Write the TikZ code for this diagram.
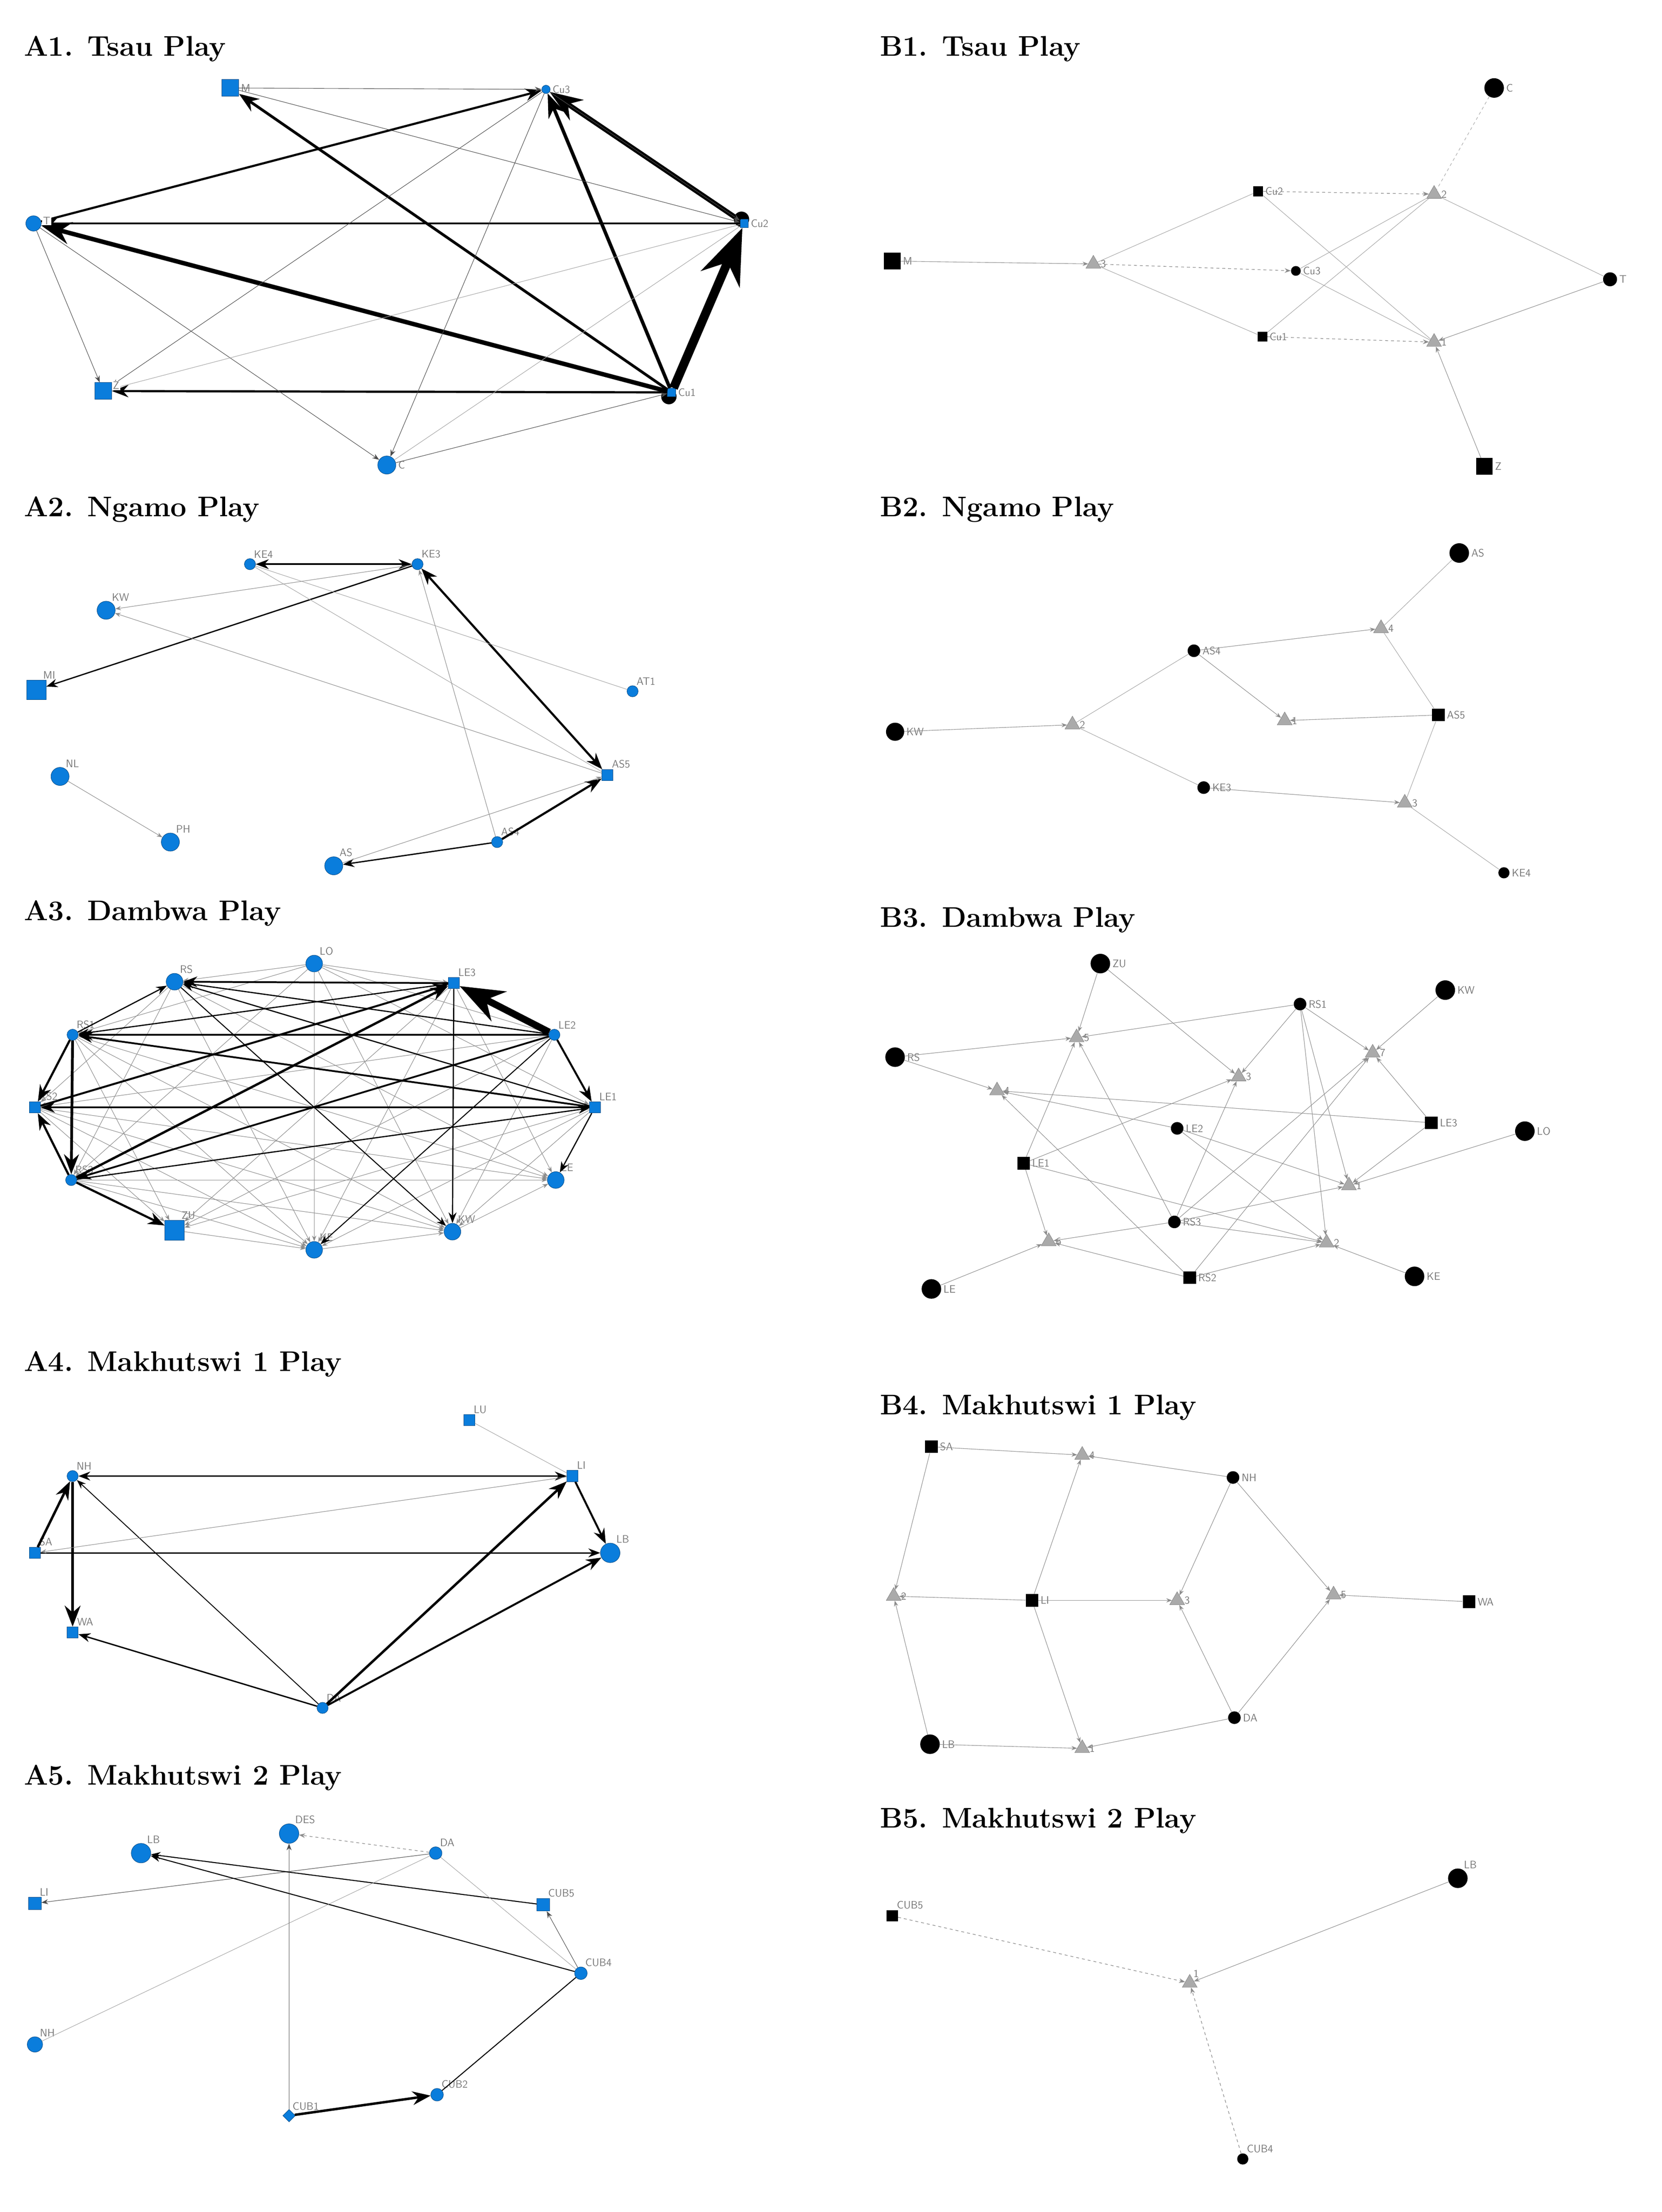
\documentclass[tikz,border=0pt]{standalone}
\usetikzlibrary{arrows.meta,shapes.geometric}
\definecolor{nb}{RGB}{10,125,220}
\definecolor{lg}{RGB}{120,120,120}
\definecolor{tg}{RGB}{170,170,170}
\begin{document}
\begin{tikzpicture}[x=0.05cm,y=-0.05cm,
 title/.style={font=\fontsize{29}{29}\selectfont\bfseries,anchor=base west,inner sep=0},
 lab/.style={font=\fontsize{11}{11}\selectfont\sffamily,text=lg,inner sep=1pt},
 bc/.style={circle,fill=nb,draw=nb!60!black,minimum size={#1*0.05cm},inner sep=0},
 bs/.style={rectangle,fill=nb,draw=nb!60!black,minimum size={#1*0.05cm},inner sep=0},
 kc/.style={circle,fill=black,minimum size={#1*0.05cm},inner sep=0},
 ks/.style={rectangle,fill=black,minimum size={#1*0.05cm},inner sep=0},
 tr/.style={regular polygon,regular polygon sides=3,fill=tg,draw=lg,line width=0.3pt,minimum size=0.62cm,inner sep=0},
 e/.style={line width=#1,-{Stealth[scale=1.3]}},
 ee/.style={line width=#1,{Stealth[scale=1.3]}-{Stealth[scale=1.3]}},
 t/.style={line width=0.5pt,draw=black!70,-{Stealth[scale=1.3]}},
 g/.style={line width=0.5pt,draw=black!35},
 ga/.style={line width=0.5pt,draw=black!45,-{Stealth[scale=1.1]}},
 gd/.style={line width=0.6pt,draw=black!45,dashed,-{Stealth[scale=1.1]}},
 R/.style={label={[lab,label distance=1pt]0:#1}},
 AR/.style={label={[lab]60:#1}}]
\useasboundingbox (0,0) rectangle (1190,1584);
\fill[white] (0,0) rectangle (1190,1584);
% ---------- A1
\node[title] at (17,40) {A1. Tsau Play};
\node[bs=12,R=M] (a1M) at (165,63) {};
\node[bc=6,R=Cu3] (a1C3) at (391,64) {};
\node[bc=11] (a1T) at (24,160) {};
\node[kc=11] at (531,157) {};
\node[bs=6,R=Cu2] (a1C2) at (533,160) {};
\node[bs=12] (a1Z) at (74,280) {};
\node[kc=11] at (479,284) {};
\node[bs=6,R=Cu1] (a1C1) at (481,281) {};
\node[bc=13,R=C] (a1C) at (277,333) {};
\draw[e=9pt] (a1C1) -- (a1C2);
\draw[e=3.5pt] (a1C1) -- (a1C3);
\draw[e=5pt] (a1C2) -- (a1C3);
\draw[e=4.5pt] (a1C1) -- (a1T);
\draw[e=2.2pt] (a1T) -- (a1C3);
\draw[e=2.2pt] (a1C2) -- (a1T);
\draw[e=2.8pt] (a1C1) -- (a1M);
\draw[e=2.2pt] (a1C1) -- (a1Z);
\draw[t] (a1M) -- (a1C3);
\draw[t] (a1M) -- (a1C2);
\draw[t] (a1C3) -- (a1C2);
\draw[t] (a1T) -- (a1Z);
\draw[t] (a1T) -- (a1C);
\draw[t] (a1C3) -- (a1Z);
\draw[t] (a1C3) -- (a1C);
\draw[g] (a1Z) -- (a1C2);
\draw[t] (a1C) -- (a1C1);
\draw[g] (a1C) -- (a1C2);
\node[lab,fill=white,anchor=west] at (30,158) {T};
\node[lab,fill=white,anchor=west] at (80,276) {Z};
% ---------- B1
\node[title] at (630,40) {B1. Tsau Play};
\node[kc=14,R=C] (b1C) at (1070,63) {};
\node[ks=7,R=Cu2] (b1C2) at (901,137) {};
\node[tr,R=2] (b12) at (1027,139) {};
\node[ks=12,R=M] (b1M) at (639,187) {};
\node[tr,R=3] (b13) at (783,189) {};
\node[kc=7,R=Cu3] (b1C3) at (928,194) {};
\node[kc=10,R=T] (b1T) at (1153,200) {};
\node[ks=7,R=Cu1] (b1C1) at (904,241) {};
\node[tr,R=1] (b11) at (1027,245) {};
\node[ks=12,R=Z] (b1Z) at (1063,334) {};
\draw[ga] (b1M) -- (b13);
\draw[g] (b13) -- (b1C2);
\draw[gd] (b13) -- (b1C3);
\draw[g] (b13) -- (b1C1);
\draw[gd] (b1C2) -- (b12);
\draw[g] (b1C3) -- (b12);
\draw[g] (b1C1) -- (b12);
\draw[g] (b1C2) -- (b11);
\draw[g] (b1C3) -- (b11);
\draw[gd] (b1C1) -- (b11);
\draw[g,dashed] (b1C) -- (b12);
\draw[g] (b12) -- (b1T);
\draw[ga] (b1T) -- (b11);
\draw[ga] (b1Z) -- (b11);
% ---------- A2
\node[title] at (17,370) {A2. Ngamo Play};
\node[bc=8,AR=KE4] (a2K4) at (179,404) {};
\node[bc=8,AR=KE3] (a2K3) at (299,404) {};
\node[bc=13,AR=KW] (a2KW) at (76,437) {};
\node[bc=8,AR=AT1] (a2AT) at (453,495) {};
\node[bs=14,AR=MI] (a2MI) at (26,494) {};
\node[bs=8,AR=AS5] (a2A5) at (435,555) {};
\node[bc=13,AR=NL] (a2NL) at (43,556) {};
\node[bc=13,AR=PH] (a2PH) at (122,603) {};
\node[bc=13,AR=AS] (a2AS) at (239,620) {};
\node[bc=8,AR=AS4] (a2A4) at (356,603) {};
\draw[ee=1.6pt] (a2K4) -- (a2K3);
\draw[e=1.3pt] (a2K3) -- (a2MI);
\draw[ee=2.2pt] (a2A5) -- (a2K3);
\draw[e=2.2pt] (a2A4) -- (a2A5);
\draw[e=1.3pt] (a2A4) -- (a2AS);
\draw[ga] (a2K3) -- (a2KW);
\draw[ga] (a2A5) -- (a2KW);
\draw[g] (a2AT) -- (a2K4);
\draw[g] (a2A5) -- (a2K4);
\draw[ga] (a2A4) -- (a2K3);
\draw[ga] (a2AS) -- (a2A5);
\draw[ga] (a2NL) -- (a2PH);
% ---------- B2
\node[title] at (630,370) {B2. Ngamo Play};
\node[kc=14,R=AS] (b2AS) at (1045,396) {};
\node[tr,R=4] (b24) at (989,450) {};
\node[kc=9,R=AS4] (b2A4) at (855,466) {};
\node[kc=13,R=KW] (b2KW) at (641,524) {};
\node[tr,R=2] (b22) at (768,519) {};
\node[tr,R=1] (b21) at (920,516) {};
\node[ks=9,R=AS5] (b2A5) at (1030,512) {};
\node[kc=9,R=KE3] (b2K3) at (862,564) {};
\node[tr,R=3] (b23) at (1006,575) {};
\node[kc=8,R=KE4] (b2K4) at (1077,625) {};
\draw[g] (b2AS) -- (b24);
\draw[ga] (b2A4) -- (b24);
\draw[ga] (b2KW) -- (b22);
\draw[g] (b2A4) -- (b22);
\draw[g] (b22) -- (b2K3);
\draw[ga] (b2A4) -- (b21);
\draw[ga] (b2A5) -- (b21);
\draw[ga] (b2K3) -- (b23);
\draw[g] (b2A5) -- (b23);
\draw[g] (b2K4) -- (b23);
\draw[g] (b24) -- (b2A5);
% ---------- A3
\node[title] at (17,659) {A3. Dambwa Play};
\node[bc=12,AR=LO] (a3LO) at (225,690) {};
\node[bc=12,AR=RS] (a3RS) at (125,703) {};
\node[bs=8,AR=LE3] (a3L3) at (325,704) {};
\node[bc=8,AR=RS1] (a3R1) at (52,741) {};
\node[bc=8,AR=LE2] (a3L2) at (397,741) {};
\node[bs=8,AR=RS2] (a3R2) at (25,793) {};
\node[bs=8,AR=LE1] (a3L1) at (426,793) {};
\node[bc=8,AR=RS3] (a3R3) at (51,845) {};
\node[bc=12,AR=LE] (a3LE) at (398,845) {};
\node[bs=14,AR=ZU] (a3ZU) at (125,881) {};
\node[bc=12,AR=KE] (a3KE) at (225,895) {};
\node[bc=12,AR=KW] (a3KW) at (324,882) {};
\foreach \a/\b in {LO/RS,LO/L3,LO/L2,LO/L1,LO/R1,LO/R3,LO/KW,LO/KE,RS/R2,RS/R3,RS/KE,RS/LE,RS/KW,L3/R2,L3/ZU,L3/KE,L3/LE,R1/KE,R1/KW,R1/ZU,R1/LE,L2/KE,L2/ZU,L2/R2,L2/KW,R2/KE,R2/KW,R2/LE,R2/ZU,L1/KE,L1/ZU,L1/KW,R3/KE,R3/KW,R3/LE,ZU/KE,KE/KW,KW/LE}
  \draw[ga] (a3\a) -- (a3\b);
\draw[e=7pt] (a3L2) -- (a3L3);
\draw[e=2.8pt] (a3R1) -- (a3R3);
\draw[e=2.2pt] (a3R3) -- (a3R2);
\draw[e=2.2pt] (a3R1) -- (a3R2);
\draw[e=2.4pt] (a3R3) -- (a3L3);
\draw[e=2pt] (a3R2) -- (a3L3);
\draw[e=2pt] (a3L2) -- (a3L1);
\draw[e=1.8pt] (a3L1) -- (a3R1);
\draw[e=1.8pt] (a3L2) -- (a3R1);
\draw[e=1.8pt] (a3L2) -- (a3R3);
\draw[e=1.8pt] (a3L1) -- (a3R2);
\draw[e=1.2pt] (a3L3) -- (a3R1);
\draw[e=1.2pt] (a3L1) -- (a3RS);
\draw[e=1.8pt] (a3L3) -- (a3RS);
\draw[e=1.2pt] (a3L2) -- (a3RS);
\draw[e=2.2pt] (a3R3) -- (a3ZU);
\draw[e=1.2pt] (a3R1) -- (a3RS);
\draw[e=1.2pt] (a3L3) -- (a3KW);
\draw[e=1.2pt] (a3L1) -- (a3LE);
\draw[e=1.2pt] (a3R3) -- (a3L1);
\draw[e=1pt] (a3RS) -- (a3KW);
\draw[e=1pt] (a3L2) -- (a3KE);
% ---------- B3
\node[title] at (630,664) {B3. Dambwa Play};
\node[kc=14,R=ZU] (b3ZU) at (788,690) {};
\node[kc=9,R=RS1] (b3R1) at (931,719) {};
\node[kc=14,R=KW] (b3KW) at (1035,709) {};
\node[kc=14,R=RS] (b3RS) at (641,757) {};
\node[tr,R=5] (b35) at (771,743) {};
\node[tr,R=7] (b37) at (983,754) {};
\node[tr,R=4] (b34) at (714,781) {};
\node[tr,R=3] (b33) at (887,771) {};
\node[ks=9,R=LE3] (b3L3) at (1025,804) {};
\node[kc=14,R=LO] (b3LO) at (1092,810) {};
\node[kc=9,R=LE2] (b3L2) at (843,808) {};
\node[ks=9,R=LE1] (b3L1) at (733,833) {};
\node[tr,R=1] (b31) at (966,849) {};
\node[kc=9,R=RS3] (b3R3) at (841,875) {};
\node[tr,R=6] (b36) at (751,889) {};
\node[tr,R=2] (b32) at (950,890) {};
\node[ks=9,R=RS2] (b3R2) at (852,915) {};
\node[kc=14,R=KE] (b3KE) at (1013,914) {};
\node[kc=14,R=LE] (b3LE) at (667,923) {};
\foreach \a/\b in {ZU/5,ZU/3,RS/4,R1/5,R1/3,R1/7,R1/1,R1/2,KW/7,LO/1,L3/1,L3/4,L2/4,L2/1,L2/2,L1/5,L1/3,L1/6,L1/2,R3/5,R3/3,R3/7,R3/1,R3/6,R2/6,R2/2,R2/4,KE/2,LE/6,R2/7,L3/7,RS/5,R3/2}
  \draw[ga] (b3\a) -- (b3\b);
% ---------- A4
\node[title] at (17,982) {A4. Makhutswi 1 Play};
\node[bs=8,AR=LU] (a4LU) at (336,1017) {};
\node[bc=8,AR=NH] (a4NH) at (52,1057) {};
\node[bs=8,AR=LI] (a4LI) at (410,1057) {};
\node[bc=14,AR=LB] (a4LB) at (437,1112) {};
\node[bs=8,AR=SA] (a4SA) at (25,1112) {};
\node[bs=8,AR=WA] (a4WA) at (52,1169) {};
\node[bc=8,AR=DA] (a4DA) at (231,1223) {};
\draw[ee=1.4pt] (a4LI) -- (a4NH);
\draw[e=2.5pt] (a4SA) -- (a4NH);
\draw[e=3pt] (a4NH) -- (a4WA);
\draw[e=1.4pt] (a4SA) -- (a4LB);
\draw[e=2pt] (a4LI) -- (a4LB);
\draw[e=2.5pt] (a4DA) -- (a4LI);
\draw[e=2pt] (a4DA) -- (a4LB);
\draw[e=1.4pt] (a4DA) -- (a4WA);
\draw[e=0.9pt] (a4DA) -- (a4NH);
\draw[g] (a4LU) -- (a4LI);
\draw[ga] (a4LI) -- (a4SA);
% ---------- B4
\node[title] at (630,1013) {B4. Makhutswi 1 Play};
\node[ks=9,R=SA] (b4SA) at (667,1036) {};
\node[tr,R=4] (b44) at (775,1042) {};
\node[kc=9,R=NH] (b4NH) at (883,1058) {};
\node[tr,R=2] (b42) at (640,1143) {};
\node[ks=9,R=LI] (b4LI) at (739,1146) {};
\node[tr,R=3] (b43) at (843,1146) {};
\node[tr,R=5] (b45) at (955,1142) {};
\node[ks=9,R=WA] (b4WA) at (1052,1147) {};
\node[kc=14,R=LB] (b4LB) at (666,1249) {};
\node[tr,R=1] (b41) at (775,1252) {};
\node[kc=9,R=DA] (b4DA) at (884,1230) {};
\foreach \a/\b in {SA/4,SA/2,NH/4,LI/4,LI/2,LI/3,LI/1,NH/3,NH/5,WA/5,DA/3,DA/5,LB/2,LB/1,DA/1}
  \draw[ga] (b4\a) -- (b4\b);
% ---------- A5
\node[title] at (17,1278) {A5. Makhutswi 2 Play};
\node[bc=14,AR=DES] (a5DE) at (207,1313) {};
\node[bc=9,AR=DA] (a5DA) at (312,1327) {};
\node[bc=14,AR=LB] (a5LB) at (101,1327) {};
\node[bs=9,AR=LI] (a5LI) at (25,1363) {};
\node[bs=9,AR=CUB5] (a5C5) at (389,1364) {};
\node[bc=9,AR=CUB4] (a5C4) at (416,1413) {};
\node[bc=11,AR=NH] (a5NH) at (25,1464) {};
\node[bc=9,AR=CUB2] (a5C2) at (313,1500) {};
\node[diamond,fill=nb,draw=nb!60!black,minimum size=0.45cm,inner sep=0,AR=CUB1] (a5C1) at (207,1515) {};
\draw[gd] (a5DA) -- (a5DE);
\draw[t] (a5DA) -- (a5LI);
\draw[e=1pt] (a5C5) -- (a5LB);
\draw[e=1pt] (a5C4) -- (a5LB);
\draw[g] (a5DA) -- (a5NH);
\draw[g] (a5DA) -- (a5C4);
\draw[t] (a5C4) -- (a5C5);
\draw[line width=1pt] (a5C4) -- (a5C2);
\draw[e=2.5pt] (a5C1) -- (a5C2);
\draw[t] (a5C1) -- (a5DE);
% ---------- B5
\node[title] at (630,1309) {B5. Makhutswi 2 Play};
\node[ks=8,AR=CUB5] (b5C5) at (639,1372) {};
\node[kc=14,AR=LB] (b5LB) at (1044,1345) {};
\node[tr,AR=1] (b51) at (852,1420) {};
\node[kc=8,AR=CUB4] (b5C4) at (890,1546) {};
\draw[gd] (b5C5) -- (b51);
\draw[ga] (b5LB) -- (b51);
\draw[gd] (b5C4) -- (b51);
\end{tikzpicture}
\end{document}
